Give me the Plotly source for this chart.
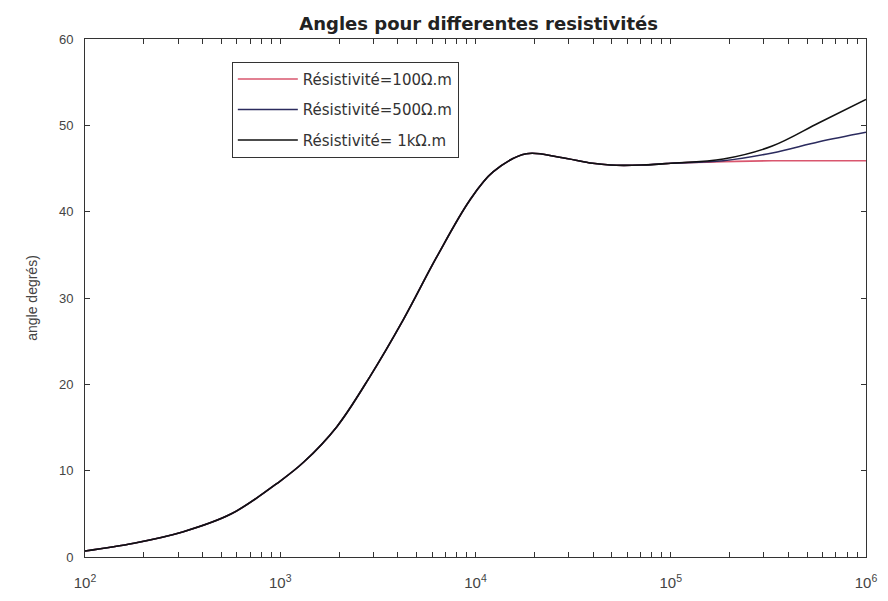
import plotly.graph_objects as go

# frequencies (Hz)
freq = [100, 178, 316, 562, 1000, 1320, 1950, 2880, 4270, 6310, 9330,
        12300, 18200, 26900, 39800, 49000, 70800, 100000, 186000, 331000,
        575000, 1000000]

# angle (degrees) for each resistivity
angle_100 = [0.7, 1.6, 2.9, 5.0, 8.8, 11.0, 15.1, 20.9, 27.5, 34.7, 41.3,
             44.6, 46.7, 46.3, 45.6, 45.4, 45.4, 45.6, 45.8, 45.9, 45.9, 45.9]
angle_500 = [0.7, 1.6, 2.9, 5.0, 8.8, 11.0, 15.1, 20.9, 27.5, 34.7, 41.3,
             44.6, 46.7, 46.3, 45.6, 45.4, 45.4, 45.6, 45.9, 46.8, 48.1, 49.2]
angle_1k = [0.7, 1.6, 2.9, 5.0, 8.8, 11.0, 15.1, 20.9, 27.5, 34.7, 41.3,
            44.6, 46.7, 46.3, 45.6, 45.4, 45.4, 45.6, 46.1, 47.6, 50.3, 53.0]

names = ["Résistivité=100Ω.m", "Résistivité=500Ω.m", "Résistivité= 1kΩ.m"]
colors = ["#d9566e", "#2b2b5e", "#111111"]

x_major = [100, 1000, 10000, 100000, 1000000]
x_major_labels = ["10<sup>2</sup>", "10<sup>3</sup>", "10<sup>4</sup>",
                  "10<sup>5</sup>", "10<sup>6</sup>"]
x_minor = [m * d for d in [100, 1000, 10000, 100000] for m in range(2, 10)]
y_ticks = [0, 10, 20, 30, 40, 50, 60]

fig = go.Figure()
for i, (name, ys, col) in enumerate(zip(names, [angle_100, angle_500, angle_1k], colors)):
    fig.add_trace(go.Scatter(x=freq, y=ys, name=name, mode="lines", legendgroup=str(i),
                             line=dict(color=col, width=1.6, shape="spline")))

axis_common = dict(showline=True, linecolor="#333", linewidth=1, mirror="ticks",
                   ticks="inside", ticklen=5, tickcolor="#333", showgrid=False,
                   zeroline=False)

# minor decade ticks go in as unlabelled ticks
fig.update_xaxes(type="log", range=[2, 6],
                 tickvals=x_major + x_minor,
                 ticktext=x_major_labels + [""] * len(x_minor),
                 tickfont=dict(family="Arial", size=15, color="#444"),
                 ticklabelstandoff=12, **axis_common)
fig.update_yaxes(range=[0, 60], tickvals=y_ticks, ticklabelstandoff=8,
                 tickfont=dict(family="Arial", size=13, color="#444"),
                 title=dict(text="angle degrés)", font=dict(family="Arial", size=14, color="#444"),
                            standoff=18),
                 **axis_common)

# page body adds an 8px offset, margins compensate for it
fig.update_layout(
    width=888, height=601,
    margin=dict(l=77, r=30, t=31, b=52),
    paper_bgcolor="white", plot_bgcolor="white",
    title=dict(text="<b>Angles pour differentes resistivités</b>", x=0.53, xanchor="center",
               yref="container", y=0.985, yanchor="top",
               font=dict(family="DejaVu Sans", size=18, color="#222")),
    legend=dict(x=0.188, y=0.956, xanchor="left", yanchor="top",
                bordercolor="#333", borderwidth=1, bgcolor="white",
                font=dict(family="DejaVu Sans", size=15, color="#333"),
                itemwidth=60, tracegroupgap=8),
    showlegend=True,
)

fig.write_html("out.html")
